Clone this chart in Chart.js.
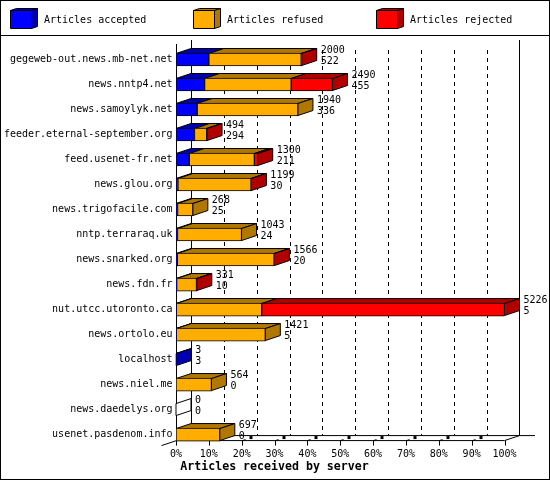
<!DOCTYPE html>
<html>
<head>
<meta charset="utf-8">
<title>Articles received by server</title>
<script src="https://cdn.jsdelivr.net/npm/chart.js@4"></script>
<style>
  html, body { margin: 0; padding: 0; background: #fff; overflow: hidden; }
  canvas { display: block; }
</style>
</head>
<body>
<canvas id="chart" width="550" height="480"></canvas>
<script>
const servers = [
  'gegeweb-out.news.mb-net.net', 'news.nntp4.net', 'news.samoylyk.net',
  'feeder.eternal-september.org', 'feed.usenet-fr.net', 'news.glou.org',
  'news.trigofacile.com', 'nntp.terraraq.uk', 'news.snarked.org', 'news.fdn.fr',
  'nut.utcc.utoronto.ca', 'news.ortolo.eu', 'localhost', 'news.niel.me',
  'news.daedelys.org', 'usenet.pasdenom.info'
];
const accepted = [522, 455, 336, 294, 211, 30, 25, 24, 20, 10, 5, 5, 3, 0, 0, 0];
const refused = [1470, 1378, 1604, 195, 1036, 1164, 243, 1019, 1541, 316, 1358, 1416, 0, 564, 0, 697];
const rejected = [8, 657, 0, 5, 53, 5, 0, 0, 5, 5, 3863, 0, 0, 0, 0, 0];
const tickLabels = ['0%', '10%', '20%', '30%', '40%', '50%', '60%', '70%', '80%', '90%', '100%'];
const axisMax = 5226;

const seriesNames = ['Articles accepted', 'Articles refused', 'Articles rejected'];
const seriesColors = ['#0000ff', '#ffae00', '#ff0000'];
const sideColors = ['#0000b0', '#b07800', '#b00000'];

const FONT = '"DejaVu Sans Mono", monospace';
const DX = 15, DY = 5;   // depth of the 3d effect
const BAR = 13;

function poly(ctx, pts, fill) {
  ctx.beginPath();
  pts.forEach((p, i) => i ? ctx.lineTo(p[0], p[1]) : ctx.moveTo(p[0], p[1]));
  ctx.closePath();
  if (fill) {
    ctx.fillStyle = fill;
    ctx.fill();
  }
  ctx.stroke();
}

function line(ctx, x0, y0, x1, y1) {
  ctx.beginPath();
  ctx.moveTo(x0, y0);
  ctx.lineTo(x1, y1);
  ctx.stroke();
}

// frame, legend, walls and the top/side faces, all under the native bars
const bars3d = {
  id: 'bars3d',
  afterLayout(chart) {
    // title is centred on the whole image, not on the plot
    chart.titleBlock.left = 0;
    chart.titleBlock.right = 549;
  },
  beforeDatasetsDraw(chart) {
    const ctx = chart.ctx;
    const xs = chart.scales.x, ys = chart.scales.y;
    const frontY = chart.chartArea.bottom - 6.5;
    const backY = frontY - DY;
    const x0 = Math.round(xs.getPixelForValue(0)) + 0.5;
    const x100 = xs.getPixelForValue(axisMax);

    ctx.save();
    ctx.strokeStyle = '#000';
    ctx.lineWidth = 1;

    // outer frame + legend divider
    ctx.strokeRect(0.5, 0.5, 549, 479);
    line(ctx, 0, 35.5, 550, 35.5);

    // legend
    seriesNames.forEach((name, i) => {
      const lx = 10.5 + i * 183;
      poly(ctx, [[lx, 10.5], [lx + 6, 8.5], [lx + 27, 8.5], [lx + 21, 10.5]], sideColors[i]);
      poly(ctx, [[lx + 21, 10.5], [lx + 27, 8.5], [lx + 27, 26.5], [lx + 21, 28.5]], sideColors[i]);
      poly(ctx, [[lx, 10.5], [lx + 21, 10.5], [lx + 21, 28.5], [lx, 28.5]], seriesColors[i]);
      ctx.fillStyle = '#000';
      ctx.font = '10px ' + FONT;
      ctx.textAlign = 'left';
      ctx.textBaseline = 'middle';
      ctx.fillText(name, 44 + i * 183, 20);
    });

    // dashed grid on the back wall
    ctx.setLineDash([4, 4]);
    xs.ticks.slice(1, -1).forEach(t => {
      const gx = Math.round(xs.getPixelForValue(t.value)) + DX + 0.5;
      line(ctx, gx, 50, gx, backY);
    });
    ctx.setLineDash([]);

    // walls and floor
    line(ctx, x0, 44, x0, frontY);
    line(ctx, x0 + DX, 40, x0 + DX, backY);
    line(ctx, x100 + DX, 40, x100 + DX, backY);
    line(ctx, x0, frontY, x100, frontY);
    line(ctx, x0, backY, 535, backY);
    line(ctx, x100, frontY, x100 + DX, backY);
    line(ctx, x0 - DX, frontY + DY, x0, frontY);

    // ticks below the floor, with the little marks on the floor
    xs.ticks.forEach((t, i) => {
      const tx = Math.round(xs.getPixelForValue(t.value)) + 0.5;
      line(ctx, tx, frontY, tx, frontY + 5);
      if (i > 0 && i < xs.ticks.length - 1) {
        line(ctx, tx, frontY, tx + 3, frontY - 1);
        ctx.fillStyle = '#000';
        ctx.fillRect(tx + 7, backY + 0.5, 3, 3);
      }
    });

    // top and side faces of each row
    servers.forEach((name, i) => {
      const yc = ys.getPixelForValue(i);
      const top = yc - BAR / 2 + 0.5, bottom = yc + BAR / 2 - 0.5;
      let sum = 0, side = '#fff';
      [accepted, refused, rejected].forEach((vals, s) => {
        if (!vals[i]) return;
        const a = xs.getPixelForValue(sum);
        sum += vals[i];
        const b = xs.getPixelForValue(sum);
        poly(ctx, [[a, top], [a + DX, top - DY], [b + DX, top - DY], [b, top]], sideColors[s]);
        side = sideColors[s];
      });
      const e = xs.getPixelForValue(sum);
      poly(ctx, [[e, top], [e + DX, top - DY], [e + DX, bottom - DY], [e, bottom]], side);
    });
    ctx.restore();
  },
  afterDatasetsDraw(chart) {
    const ctx = chart.ctx;
    const xs = chart.scales.x, ys = chart.scales.y;
    ctx.save();
    ctx.fillStyle = '#000';
    ctx.font = '10px ' + FONT;
    ctx.textAlign = 'left';
    ctx.textBaseline = 'middle';
    servers.forEach((name, i) => {
      const total = accepted[i] + refused[i] + rejected[i];
      const lx = xs.getPixelForValue(total) + DX + 4;
      const yc = ys.getPixelForValue(i);
      ctx.fillText(String(total), lx, yc - 9.5);
      ctx.fillText(String(accepted[i]), lx, yc + 1.5);
    });
    ctx.restore();
  }
};

new Chart(document.getElementById('chart'), {
  type: 'bar',
  plugins: [bars3d],
  data: {
    labels: servers,
    datasets: [accepted, refused, rejected].map((vals, i) => ({
      label: seriesNames[i],
      data: vals,
      backgroundColor: seriesColors[i],
      borderColor: '#000',
      borderWidth: 1,
      borderSkipped: false,
      barThickness: BAR
    }))
  },
  options: {
    indexAxis: 'y',
    responsive: false,
    animation: false,
    devicePixelRatio: 1,
    layout: { padding: { top: 47, right: 45.5, left: 0, bottom: 0 } },
    plugins: {
      legend: { display: false },
      tooltip: { enabled: false },
      title: {
        display: true,
        position: 'bottom',
        text: 'Articles received by server',
        color: '#000',
        font: { family: FONT, size: 11.6, weight: 'bold', lineHeight: 1.2 },
        padding: { top: 3, bottom: 6 }
      }
    },
    scales: {
      x: {
        stacked: true,
        min: 0,
        max: axisMax,
        grid: { display: false, drawTicks: false },
        border: { display: false },
        afterBuildTicks(scale) {
          scale.ticks = tickLabels.map((t, i) => ({ value: axisMax * i / 10 }));
        },
        afterFit(scale) { scale.height = 10; },
        ticks: {
          autoSkip: false,
          maxRotation: 0,
          padding: 1,
          color: '#000',
          font: { family: FONT, size: 10 },
          callback: (v, i) => tickLabels[i]
        }
      },
      y: {
        stacked: true,
        grid: { display: false, drawTicks: false },
        border: { display: false },
        afterFit(scale) { scale.width = 176; },
        ticks: {
          autoSkip: false,
          padding: 3.5,
          color: '#000',
          font: { family: FONT, size: 10 }
        }
      }
    }
  }
});
</script>
</body>
</html>
